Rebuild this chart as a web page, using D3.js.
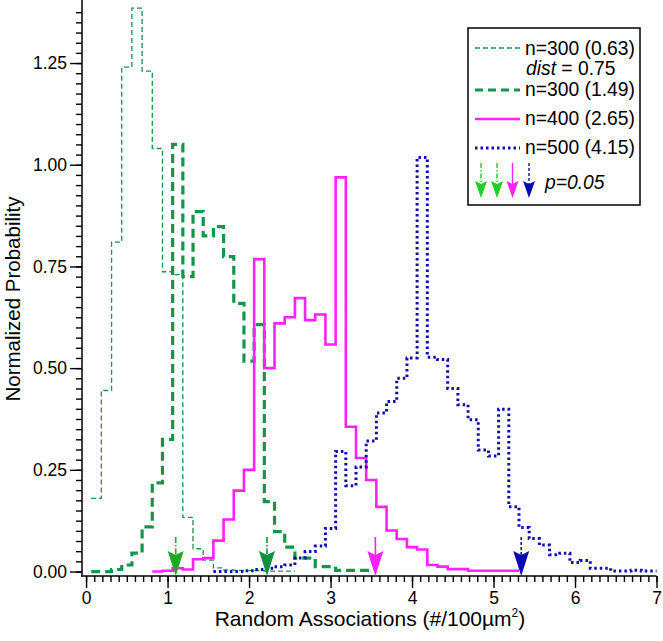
<!DOCTYPE html>
<html><head><meta charset="utf-8">
<script src="https://cdn.jsdelivr.net/npm/d3@7"></script>
<style>
body{margin:0;background:#fff}
svg{display:block;font-family:"Liberation Sans",Arial,Helvetica,sans-serif}
</style>
</head><body><svg id="c" width="663" height="641"></svg>
<script>
// ---- data (histograms, bin width 0.125, first bin center given) ----
const binWidth = 0.125;
const thinStart = 0.125;   // n=300 (0.63)
const thinVals = [0.18, 0.445, 0.81, 1.24, 1.385, 1.23, 1.04, 0.737, 0.73, 0.133, 0.056, 0.028, 0.009, 0.004, 0.003, 0.002, 0.002, 0.001, 0.001, 0.001];
const thickStart = 0.125;  // n=300 (1.49), dist=0.75
const thickVals = [0.0, 0.0, 0.005, 0.016, 0.045, 0.11, 0.218, 0.325, 1.05, 0.725, 0.885, 0.825, 0.848, 0.774, 0.659, 0.517, 0.607, 0.172, 0.098, 0.06, 0.033, 0.033, 0.012, 0.012, 0.003, 0.003, 0.003, 0.003];
const magStart = 0.875;    // n=400 (2.65)
const magVals = [0.0, 0.002, 0.008, 0.005, 0.03, 0.033, 0.076, 0.128, 0.199, 0.25, 0.768, 0.5, 0.61, 0.625, 0.672, 0.618, 0.632, 0.558, 0.969, 0.356, 0.279, 0.225, 0.159, 0.101, 0.08, 0.06, 0.054, 0.016, 0.012, 0.006, 0.006, 0.002, 0.002, 0.002, 0.002, 0.002];
const blueStart = 1.625;   // n=500 (4.15)
const blueVals = [0.0, 0.0, 0.0, 0.002, 0.005, 0.008, 0.012, 0.016, 0.033, 0.049, 0.063, 0.106, 0.295, 0.211, 0.257, 0.321, 0.39, 0.418, 0.475, 0.525, 1.018, 0.527, 0.521, 0.45, 0.41, 0.373, 0.299, 0.284, 0.399, 0.159, 0.108, 0.081, 0.065, 0.041, 0.045, 0.022, 0.027, 0.008, 0.008, 0.001, 0.001, 0.003, 0.001, 0.001];
// p=0.05 thresholds
const pArrows = [
  {x: 1.10, color: "#1faa22", dash: "6,2,1.5,2"},
  {x: 2.22, color: "#128f40", dash: "6,2,1.5,2"},
  {x: 3.55, color: "#ff22ff", dash: null},
  {x: 5.34, color: "#0a0ab0", dash: "3,2"}
];
const xTicks = [0,1,2,3,4,5,6,7];
const yTicks = [0,0.25,0.5,0.75,1.0,1.25];
const legendLabels = ["n=300 (0.63)", "n=300 (1.49)", "n=400 (2.65)", "n=500 (4.15)"];

// ---- setup ----
const svg = d3.select("#c");
const x = d3.scaleLinear().domain([-0.05, 7]).range([82, 656.5]);
const y = d3.scaleLinear().domain([-0.011, 1.405]).range([576, 0]);

const GREEN = "#14964a", MAG = "#ff22ff", BLUE = "#1010a8";

svg.append("defs").append("clipPath").attr("id","plot")
  .append("rect").attr("x",82).attr("y",0).attr("width",656.5-82).attr("height",576);

function steps(start, vals){
  const pts=[];
  vals.forEach((v,i)=>{const c=start+i*binWidth; pts.push([c-binWidth/2,v],[c+binWidth/2,v]);});
  return pts;
}
const line = d3.line().x(d=>x(d[0])).y(d=>y(d[1]));
const plot = svg.append("g").attr("clip-path","url(#plot)");
plot.append("path").attr("d",line(steps(thinStart,thinVals))).attr("fill","none")
  .attr("stroke",GREEN).attr("stroke-width",1.3).attr("stroke-dasharray","5,3");
plot.append("path").attr("d",line(steps(thickStart,thickVals))).attr("fill","none")
  .attr("stroke",GREEN).attr("stroke-width",3.2).attr("stroke-dasharray","9,5");
plot.append("path").attr("d",line(steps(magStart,magVals))).attr("fill","none")
  .attr("stroke",MAG).attr("stroke-width",2.6);
plot.append("path").attr("d",line(steps(blueStart,blueVals))).attr("fill","none")
  .attr("stroke",BLUE).attr("stroke-width",3).attr("stroke-dasharray","2.5,3");

// ---- axes ----
const yMinor = d3.range(0, 1.40, 0.025);
const xMinor = d3.range(0, 7.0001, 0.1);
const yAx = svg.append("g").attr("transform","translate(82,0)");
yAx.call(d3.axisLeft(y).tickValues(yMinor).tickSize(6).tickFormat("")).call(g=>g.select(".domain").remove());
yAx.append("g").call(d3.axisLeft(y).tickValues(yTicks).tickSize(12).tickPadding(3).tickFormat(d3.format(".2f")))
  .call(g=>g.select(".domain").remove());
const xAx = svg.append("g").attr("transform","translate(0,576)");
xAx.call(d3.axisBottom(x).tickValues(xMinor).tickSize(6).tickFormat("")).call(g=>g.select(".domain").remove());
xAx.append("g").call(d3.axisBottom(x).tickValues(xTicks).tickSize(12).tickPadding(4).tickFormat(d3.format("d")))
  .call(g=>g.select(".domain").remove());
svg.selectAll(".tick line").attr("stroke","#000").attr("stroke-width",1.4);
svg.selectAll(".tick text").attr("font-size",17.5).attr("fill","#000").attr("font-family","Liberation Sans, Arial, sans-serif");
svg.append("line").attr("x1",82).attr("x2",82).attr("y1",0).attr("y2",576.7).attr("stroke","#000").attr("stroke-width",1.5);
svg.append("line").attr("x1",81.3).attr("x2",656.5).attr("y1",576).attr("y2",576).attr("stroke","#000").attr("stroke-width",1.5);

svg.append("text").attr("transform","translate(20,299) rotate(-90)").attr("text-anchor","middle")
  .attr("font-size",20.5).text("Normalized Probability");
const xt = svg.append("text").attr("x",370).attr("y",626).attr("text-anchor","middle").attr("font-size",21);
xt.append("tspan").text("Random Associations (#/100µm");
xt.append("tspan").attr("font-size",12).attr("dy",-9).text("2");
xt.append("tspan").attr("dy",9).text(")");

// ---- arrows ----
function arrow(g, cx, tip, color, dash, shaftTop, h, w, notch, sw){
  g.append("line").attr("x1",cx).attr("x2",cx).attr("y1",shaftTop).attr("y2",tip-h+notch)
    .attr("stroke",color).attr("stroke-width",sw).attr("stroke-dasharray",dash);
  g.append("path").attr("d",`M${cx},${tip} L${cx-w/2},${tip-h} L${cx},${tip-h+notch} L${cx+w/2},${tip-h} Z`)
    .attr("fill",color);
}
const ag = svg.append("g");
pArrows.forEach(a=>arrow(ag, x(a.x), 576, a.color, a.dash, 537, 25, 16, 4, 1.6));

// ---- legend ----
const lg = svg.append("g");
lg.append("rect").attr("x",468).attr("y",28).attr("width",172).attr("height",177)
  .attr("fill","#fff").attr("stroke","#000").attr("stroke-width",1.5);
const legStyles = [
  {c:GREEN, w:1.3, d:"5,3", ly:48, ty:55},
  {c:GREEN, w:3.2, d:"8,5", ly:90, ty:96},
  {c:MAG, w:2.6, d:null, ly:119, ty:125},
  {c:BLUE, w:3, d:"2.5,3", ly:148, ty:154}
];
legStyles.forEach((s,i)=>{
  lg.append("line").attr("x1",475).attr("x2",520).attr("y1",s.ly).attr("y2",s.ly)
    .attr("stroke",s.c).attr("stroke-width",s.w).attr("stroke-dasharray",s.d);
  lg.append("text").attr("x",525).attr("y",s.ty).attr("font-size",19.3).text(legendLabels[i]);
});
const dt = lg.append("text").attr("x",526).attr("y",75).attr("font-size",19.3);
dt.append("tspan").attr("font-style","italic").text("dist");
dt.append("tspan").text(" = 0.75");
const legArrowX = [481, 497, 512.5, 529];
const legArrowC = ["#22cc22","#22cc22","#ff22ff","#0a0ab0"];
const legArrowD = ["5,2,1.5,2","5,2,1.5,2",null,"3,2"];
legArrowX.forEach((lx,i)=>arrow(lg, lx, 198, legArrowC[i], legArrowD[i], 163, 17, 12, 3, 1.4));
lg.append("text").attr("x",545).attr("y",189).attr("font-size",19.3).attr("font-style","italic").text("p=0.05");
</script>
</body></html>
